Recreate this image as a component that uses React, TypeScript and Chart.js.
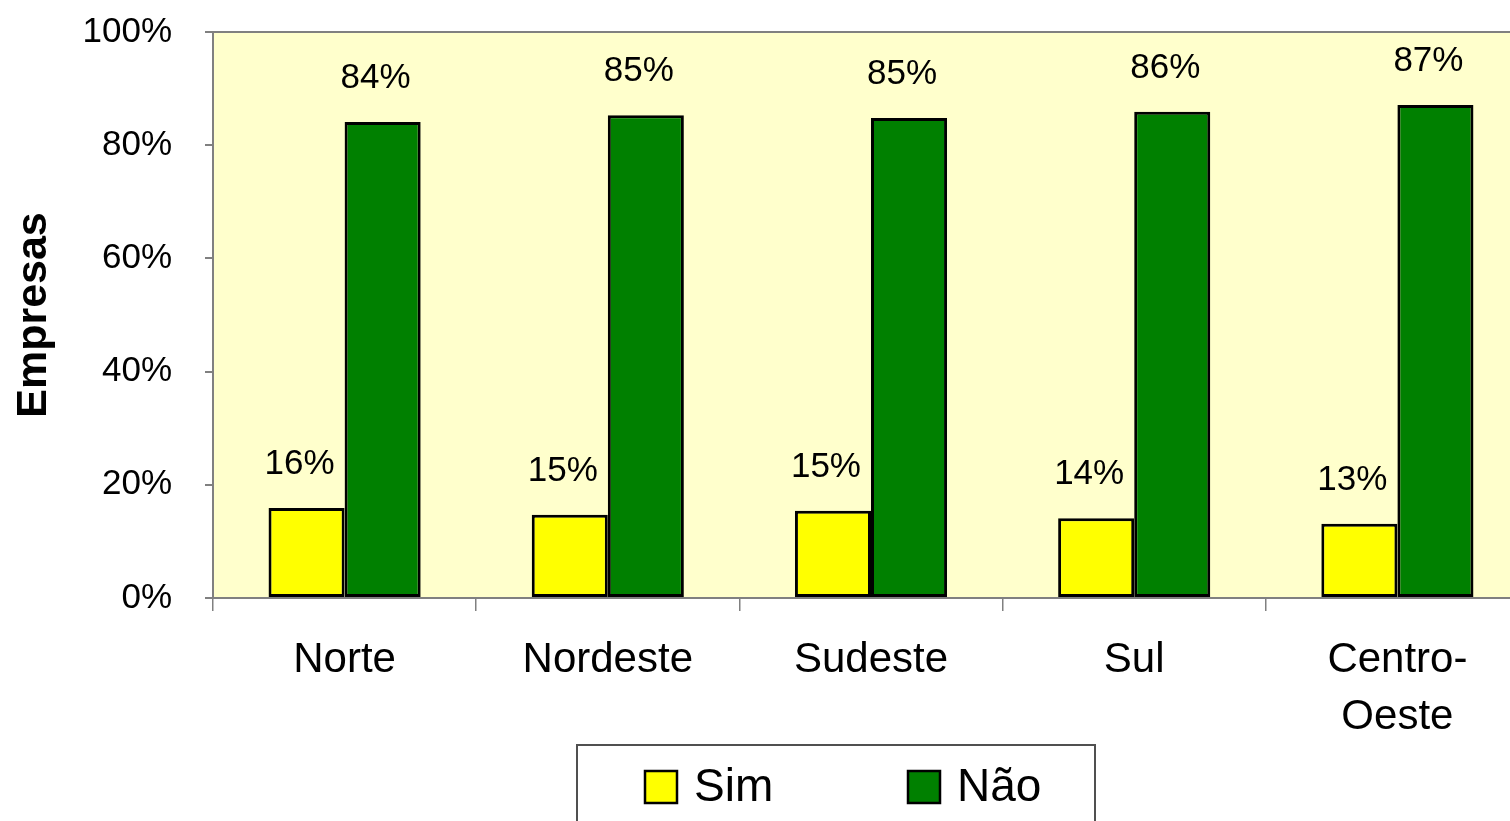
import React, { useEffect, useRef } from "react";
import { Chart, registerables } from "chart.js";

Chart.register(...registerables);

const categories: (string | string[])[] = ["Norte", "Nordeste", "Sudeste", "Sul", ["Centro-", "Oeste"]];
const simValues = [15.9, 14.7, 15.4, 14.1, 13.1];
const naoValues = [84.1, 85.3, 84.8, 85.9, 87.1];
const seriesNames = ["Sim", "Não"];
const yTicks = [0, 20, 40, 60, 80, 100];
const yTitle = "Empresas";

const FONT = "'Liberation Sans', Arial, sans-serif";
const GRAY = "#808080";

const bgPlugin = {
  id: "bgPlugin",
  beforeDraw(chart: any) {
    const { ctx, chartArea } = chart;
    ctx.save();
    ctx.fillStyle = "#ffffff";
    ctx.fillRect(0, 0, chart.width, chart.height);
    ctx.fillStyle = "#FFFFCC";
    ctx.fillRect(chartArea.left, chartArea.top, chartArea.right - chartArea.left, chartArea.bottom - chartArea.top);
    ctx.restore();
  },
  afterDraw(chart: any) {
    const { ctx, chartArea } = chart;
    ctx.save();
    ctx.strokeStyle = GRAY;
    ctx.lineWidth = 2;
    ctx.beginPath();
    ctx.moveTo(chartArea.left, chartArea.top);
    ctx.lineTo(chartArea.right, chartArea.top);
    ctx.stroke();
    ctx.restore();
  },
};

const labelPlugin = {
  id: "labelPlugin",
  afterDatasetsDraw(chart: any) {
    const { ctx } = chart;
    ctx.save();
    ctx.font = `35px ${FONT}`;
    ctx.fillStyle = "#000";
    ctx.textAlign = "center";
    ctx.textBaseline = "alphabetic";
    chart.data.datasets.forEach((ds: any, di: number) => {
      const meta = chart.getDatasetMeta(di);
      meta.data.forEach((el: any, i: number) => {
        const v = ds.data[i];
        ctx.fillText(Math.round(v) + "%", el.x - 7, el.y - 34);
      });
    });
    ctx.restore();
  },
};

const legendPlugin = {
  id: "customLegend",
  afterDraw(chart: any) {
    const { ctx } = chart;
    ctx.save();
    ctx.strokeStyle = "#505050";
    ctx.lineWidth = 2;
    ctx.strokeRect(577, 745, 518, 120);
    const items = [
      { boxX: 645, textX: 694 },
      { boxX: 908, textX: 957 },
    ];
    ctx.font = `46px ${FONT}`;
    ctx.textBaseline = "middle";
    ctx.textAlign = "left";
    chart.data.datasets.forEach((ds: any, i: number) => {
      const it = items[i];
      ctx.fillStyle = ds.backgroundColor;
      ctx.fillRect(it.boxX, 771, 32, 32);
      ctx.strokeStyle = "#000";
      ctx.lineWidth = 2.5;
      ctx.strokeRect(it.boxX, 771, 32, 32);
      ctx.fillStyle = "#000";
      ctx.fillText(ds.label, it.textX, 788);
    });
    ctx.restore();
  },
};

export default function App() {
  const ref = useRef<HTMLCanvasElement | null>(null);
  useEffect(() => {
    if (!ref.current) return;
    const chart = new Chart(ref.current, {
      type: "bar",
      data: {
        labels: categories as any,
        datasets: [
          {
            label: seriesNames[0],
            data: simValues,
            backgroundColor: "#FFFF00",
            borderColor: "#000000",
            borderWidth: 3,
            borderSkipped: false,
          },
          {
            label: seriesNames[1],
            data: naoValues,
            backgroundColor: "#008000",
            borderColor: "#000000",
            borderWidth: 3,
            borderSkipped: false,
          },
        ],
      },
      options: {
        responsive: false,
        animation: false,
        layout: { padding: { left: 0, top: 32, right: 11, bottom: 0 } },
        datasets: { bar: { categoryPercentage: 0.578, barPercentage: 1 } },
        plugins: {
          legend: { display: false },
          tooltip: { enabled: false },
        },
        scales: {
          x: {
            offset: true,
            grid: {
              offset: true,
              drawOnChartArea: false,
              drawTicks: true,
              tickLength: 13,
              color: GRAY,
              lineWidth: 1.5,
            },
            border: { display: true, color: GRAY, width: 2 },
            ticks: {
              color: "#000",
              font: { family: FONT, size: 42, lineHeight: 1.36 },
              padding: 21,
              maxRotation: 0,
              autoSkip: false,
            },
            afterFit(scale: any) {
              scale.height = 223;
            },
          },
          y: {
            min: 0,
            max: 100,
            afterBuildTicks(scale: any) {
              scale.ticks = yTicks.map((v) => ({ value: v }));
            },
            grid: {
              drawOnChartArea: false,
              drawTicks: true,
              tickLength: 8,
              color: GRAY,
              lineWidth: 2,
            },
            border: { display: true, color: GRAY, width: 2 },
            ticks: {
              color: "#000",
              font: { family: FONT, size: 35 },
              padding: 33,
              callback: (v: any) => v + "%",
            },
            title: {
              display: true,
              text: yTitle,
              color: "#000",
              font: { family: FONT, size: 43, weight: "bold" },
              padding: { top: 8, bottom: 0 },
            },
            afterFit(scale: any) {
              scale.width = 213;
              scale.paddingTop = 0;
              scale.paddingBottom = 0;
            },
          },
        },
      },
      plugins: [bgPlugin, labelPlugin, legendPlugin],
    });
    return () => chart.destroy();
  }, []);

  return (
    <div
      style={{
        position: "fixed",
        left: 0,
        top: 0,
        width: 1510,
        height: 821,
        overflow: "hidden",
        background: "#fff",
      }}
    >
      <canvas ref={ref} width={1540} height={821} style={{ width: 1540, height: 821, display: "block" }} />
    </div>
  );
}
